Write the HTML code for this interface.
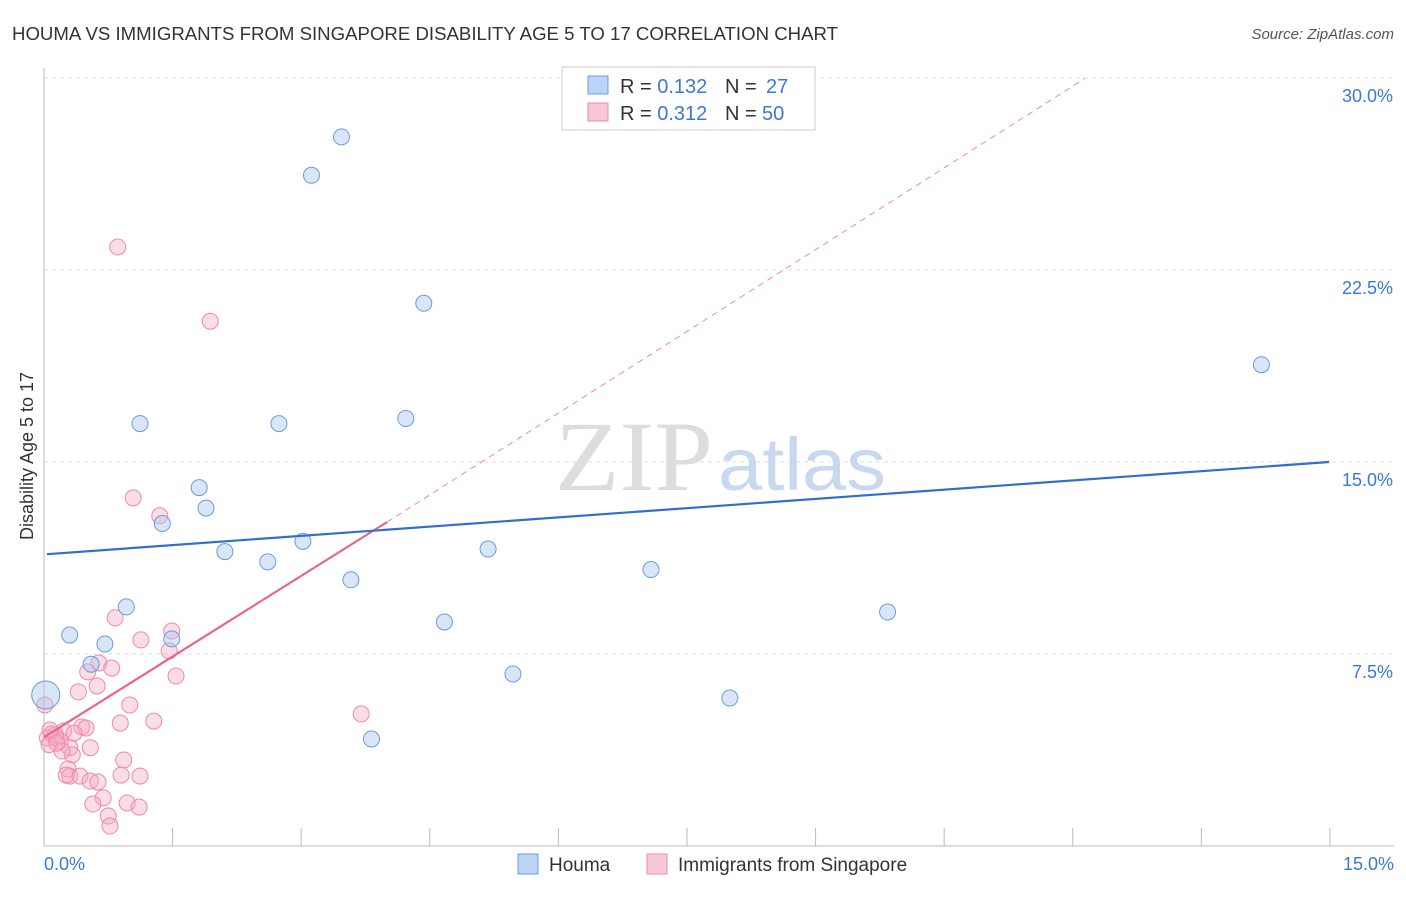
<!DOCTYPE html>
<html><head><meta charset="utf-8">
<style>
body{margin:0;background:#fff;font-family:"Liberation Sans",sans-serif;}
svg text{font-family:"Liberation Sans",sans-serif;}
</style></head>
<body>
<svg id="chart" width="1406" height="892" viewBox="0 0 1406 892" xmlns="http://www.w3.org/2000/svg">
<text x="12" y="40" font-size="18" fill="#333" textLength="826" lengthAdjust="spacingAndGlyphs">HOUMA VS IMMIGRANTS FROM SINGAPORE DISABILITY AGE 5 TO 17 CORRELATION CHART</text>
<text x="1394" y="39" font-size="15" fill="#555" text-anchor="end" font-style="italic">Source: ZipAtlas.com</text>
<g id="grid"></g>
<g id="axes"></g>
<text x="555" y="490" font-size="100" fill="#ddd" textLength="158" lengthAdjust="spacingAndGlyphs" style="font-family:'Liberation Serif',serif">ZIP</text>
<text x="718" y="490" font-size="74" fill="#c8d8ee" textLength="168" lengthAdjust="spacingAndGlyphs">atlas</text>
<g id="marks"></g>
<text transform="translate(33,456) rotate(-90)" font-size="18" fill="#333" text-anchor="middle">Disability Age 5 to 17</text>
<g>
<rect x="562" y="67" width="253" height="63" fill="#fff" stroke="#ccc"/>
<rect x="588" y="76" width="20" height="18" fill="#bcd4f5" stroke="#6a9be0"/>
<text x="620" y="93" font-size="20" fill="#333">R = <tspan fill="#3a78d8">0.132</tspan></text>
<text x="725" y="93" font-size="20" fill="#333">N = <tspan x="766" fill="#3a78d8">27</tspan></text>
<rect x="588" y="103" width="20" height="18" fill="#f9c8d6" stroke="#ec8aa8"/>
<text x="620" y="120" font-size="20" fill="#333">R = <tspan fill="#3a78d8">0.312</tspan></text>
<text x="725" y="120" font-size="20" fill="#333">N = <tspan x="762" fill="#3a78d8">50</tspan></text>
</g>
<g>
<rect x="518" y="854" width="20" height="20" fill="#bcd4f5" stroke="#6a9be0"/>
<text x="549" y="871" font-size="19" fill="#333">Houma</text>
<rect x="647" y="854" width="20" height="20" fill="#f9c8d6" stroke="#ec8aa8"/>
<text x="678" y="871" font-size="19" fill="#333">Immigrants from Singapore</text>
</g>
</svg>
<script>
const yTicks=[7.5,15,22.5,30];
const yTickLabels=["7.5%","15.0%","22.5%","30.0%"];
const xTicks=[0,1.5,3,4.5,6,7.5,9,10.5,12,13.5,15];
const houmaX=[3.47,3.12,4.43,14.2,1.12,2.74,4.22,1.81,1.89,1.38,2.11,2.61,3.02,3.58,5.18,7.08,0.96,0.30,0.71,1.49,4.67,9.84,0.55,5.47,8.00,3.82,0.02];
const houmaY=[27.7,26.2,21.2,18.8,16.5,16.5,16.7,14.0,13.2,12.6,11.5,11.1,11.9,10.4,11.6,10.8,9.34,8.24,7.89,8.09,8.75,9.14,7.1,6.72,5.78,4.18,5.9];
const singX=[0.86,1.94,1.04,1.35,0.83,1.13,1.49,1.46,0.64,0.51,0.79,1.54,0.62,0.40,1.00,0.89,1.28,3.70,0.44,0.49,0.23,0.35,0.09,0.14,0.19,0.04,0.30,0.54,0.33,0.93,0.28,0.30,0.26,0.42,0.54,0.63,0.90,1.12,0.69,0.57,0.97,1.11,0.75,0.77,0.06,0.13,0.01,0.07,0.21,0.15];
const singY=[23.4,20.5,13.6,12.9,8.91,8.05,8.4,7.62,7.15,6.8,6.95,6.64,6.25,6.02,5.51,4.8,4.88,5.16,4.65,4.61,4.49,4.41,4.38,4.22,4.1,4.22,3.84,3.84,3.56,3.36,3.01,2.73,2.77,2.73,2.54,2.5,2.77,2.73,1.88,1.64,1.68,1.52,1.17,0.78,3.96,4.34,5.51,4.53,3.71,4.02];
const houmaTrend=[0.035,11.4,14.99,15.0];
const singTrend=[0.0,4.25,4.0,12.65];
const singDash=[12.14,29.98];
function X(v){return 44+v*85.73;}
function Y(v){return 846-v*25.6;}
const NS="http://www.w3.org/2000/svg";
const grid=document.getElementById('grid'),axes=document.getElementById('axes'),marks=document.getElementById('marks');
function mk(tag,attrs,parent){const e=document.createElementNS(NS,tag);for(const k in attrs)e.setAttribute(k,attrs[k]);parent.appendChild(e);return e;}
yTicks.forEach((t,i)=>{
 const l=mk('line',{x1:44,x2:1394,y1:Y(t),y2:Y(t),stroke:'#ddd','stroke-dasharray':'4,4'},grid);
 
 
 const tx=mk('text',{x:1393,y:Y(t)+24,'font-size':18,fill:'#3a78d8','text-anchor':'end'},axes);
 tx.textContent=yTickLabels[i];
 
 
});
const ya=mk('line',{x1:44,x2:44,y1:68,y2:846,stroke:'#bbb'},axes);


const xa=mk('line',{x1:44,x2:1394,y1:846,y2:846,stroke:'#bbb'},axes);


xTicks.forEach(t=>{
 const l=mk('line',{x1:X(t),x2:X(t),y1:828,y2:846,stroke:'#bbb'},axes);
 
 
});
const xl0=mk('text',{x:44,y:870,'font-size':18,fill:'#3a78d8'},axes);xl0.textContent='0.0%';


const xl1=mk('text',{x:1394,y:870,'font-size':18,fill:'#3a78d8','text-anchor':'end'},axes);xl1.textContent='15.0%';


singX.forEach((x,i)=>{
 const c=mk('circle',{cx:X(x),cy:Y(singY[i]),r:8,fill:'rgba(246,170,195,0.4)',stroke:'#ec8aa8','stroke-width':1},marks);
 
 
});
houmaX.forEach((x,i)=>{
 const c=mk('circle',{cx:X(x),cy:Y(houmaY[i]),r:i==26?14:8,fill:'rgba(170,200,240,0.45)',stroke:'#6a9be0','stroke-width':1},marks);
 
 
});
const d=mk('line',{x1:X(singTrend[2]),y1:Y(singTrend[3]),x2:X(singDash[0]),y2:Y(singDash[1]),stroke:'#ec8aa8','stroke-width':1,'stroke-dasharray':'6,5'},marks);


const ps=mk('line',{x1:X(singTrend[0]),y1:Y(singTrend[1]),x2:X(singTrend[2]),y2:Y(singTrend[3]),stroke:'#e8648f','stroke-width':2.2},marks);


const hs=mk('line',{x1:X(houmaTrend[0]),y1:Y(houmaTrend[1]),x2:X(houmaTrend[2]),y2:Y(houmaTrend[3]),stroke:'#2f6fd0','stroke-width':2.2},marks);


</script>
</body></html>
